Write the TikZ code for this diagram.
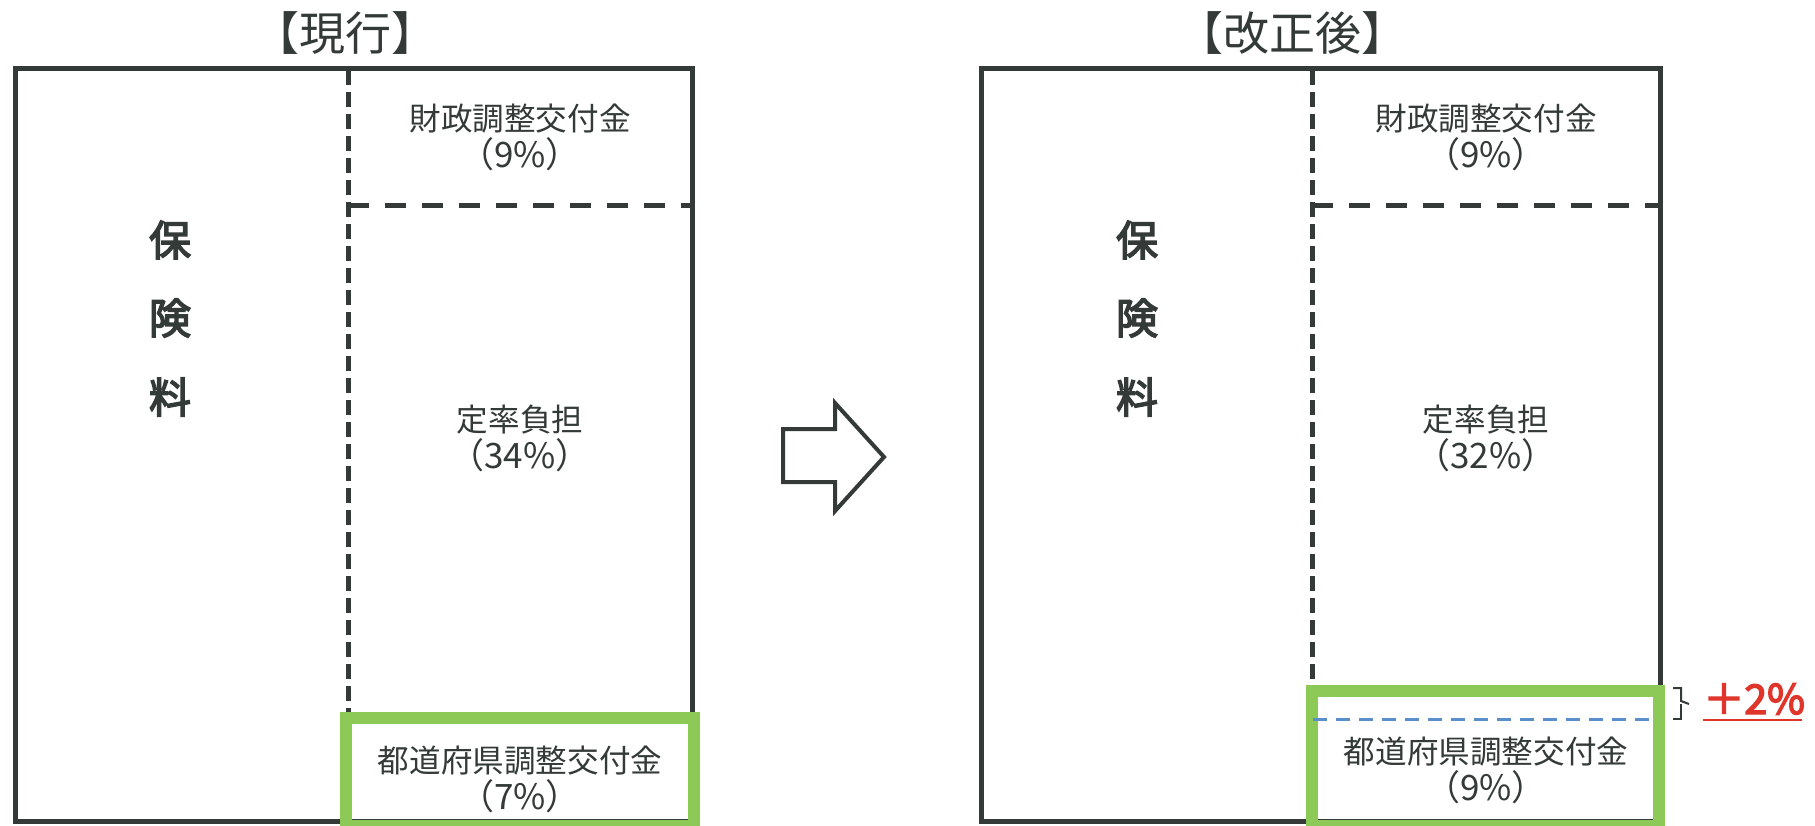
\documentclass[tikz,border=0pt]{standalone}
\usepackage{fontspec}
\newfontfamily\jp[AutoFakeBold=3.5]{Noto Sans CJK JP}
\definecolor{ink}{HTML}{333A38}
\definecolor{lgreen}{HTML}{8DC957}
\definecolor{dblue}{HTML}{5A8FCC}
\definecolor{plusred}{HTML}{E0352B}
\tikzset{
  frame/.style={draw=ink, line width=2.5pt, line join=miter},
  vdash/.style={draw=ink, line width=2.5pt, dash pattern=on 7.5pt off 3.5pt},
  hdash/.style={draw=ink, line width=2.5pt, dash pattern=on 10.5pt off 8pt},
  greenbox/.style={draw=lgreen, line width=6pt},
  bluedash/.style={draw=dblue, line width=1.4pt, dash pattern=on 7pt off 4.5pt},
  lbl/.style={font=\jp\fontsize{15.8pt}{18pt}\selectfont, text=ink, align=center, inner sep=0pt},
  pct/.style={font=\jp\fontsize{17.5pt}{20pt}\selectfont, text=ink, align=center, inner sep=0pt},
  ttl/.style={font=\jp\fontsize{23pt}{26pt}\selectfont, text=ink, inner sep=0pt},
  hoken/.style={font=\jp\bfseries\fontsize{21pt}{24pt}\selectfont, text=ink, inner sep=0pt},
  plus/.style={font=\jp\bfseries\fontsize{20.5pt}{24pt}\selectfont, text=plusred, inner sep=0pt},
}
\begin{document}
\begin{tikzpicture}[x=0.5pt,y=-0.5pt]
\useasboundingbox (0,0) rectangle (1815,825);
\fill[white] (0,0) rectangle (1815,825);

% ---------- left (current) ----------
\node[ttl] (t1) at (345,33) {【現行】};
\draw[frame] (15.5,68.5) rectangle (692,821);
\draw[vdash] (348,70) -- (348,716);
\draw[hdash] (348,205) -- (690,205);
\draw[greenbox] (346,718) rectangle (694,826);
\node[lbl] (a1) at (520,119) {財政調整交付金};
\node[pct] (a2) at (520,154) {（9\%）};
\node[lbl] (b1) at (520,420) {定率負担};
\node[pct] (b2) at (520,455) {（34\%）};
\node[lbl] (c1) at (520,761) {都道府県調整交付金};
\node[pct] (c2) at (520,796) {（7\%）};
\node[hoken] (h1) at (170,240) {保};
\node[hoken] (h2) at (170,318) {険};
\node[hoken] (h3) at (170,397) {料};

% ---------- arrow ----------
\draw[draw=ink, line width=2pt, line join=miter]
  (783,429) -- (835,429) -- (835,403) -- (884,457) -- (835,511) -- (835,482) -- (783,482) -- cycle;

% ---------- right (after revision) ----------
\node[ttl] (t2) at (1292,33) {【改正後】};
\draw[frame] (981,68.5) rectangle (1660,821);
\draw[vdash] (1312,70) -- (1312,689);
\draw[hdash] (1312,205) -- (1658,205);
\draw[greenbox] (1312,691) rectangle (1659,826);
\draw[bluedash] (1313,719.5) -- (1656,719.5);
\node[lbl] (d1) at (1486,119) {財政調整交付金};
\node[pct] (d2) at (1486,154) {（9\%）};
\node[lbl] (e1) at (1486,420) {定率負担};
\node[pct] (e2) at (1486,455) {（32\%）};
\node[lbl] (f1) at (1486,752) {都道府県調整交付金};
\node[pct] (f2) at (1486,787) {（9\%）};
\node[hoken] (k1) at (1137,240) {保};
\node[hoken] (k2) at (1137,318) {険};
\node[hoken] (k3) at (1137,397) {料};

% brace and +2%
\draw[draw=ink, line width=1pt] (1673,688) -- (1681,688) -- (1681,701) -- (1689,704);
\draw[draw=ink, line width=1pt] (1681,704) -- (1681,718.5) -- (1673,718.5);
\node[plus, anchor=base west] (p) at (1703,714) {＋2\%};
\draw[draw=plusred, line width=1.2pt] (1703,720) -- (1802,720);
\end{tikzpicture}
\end{document}
